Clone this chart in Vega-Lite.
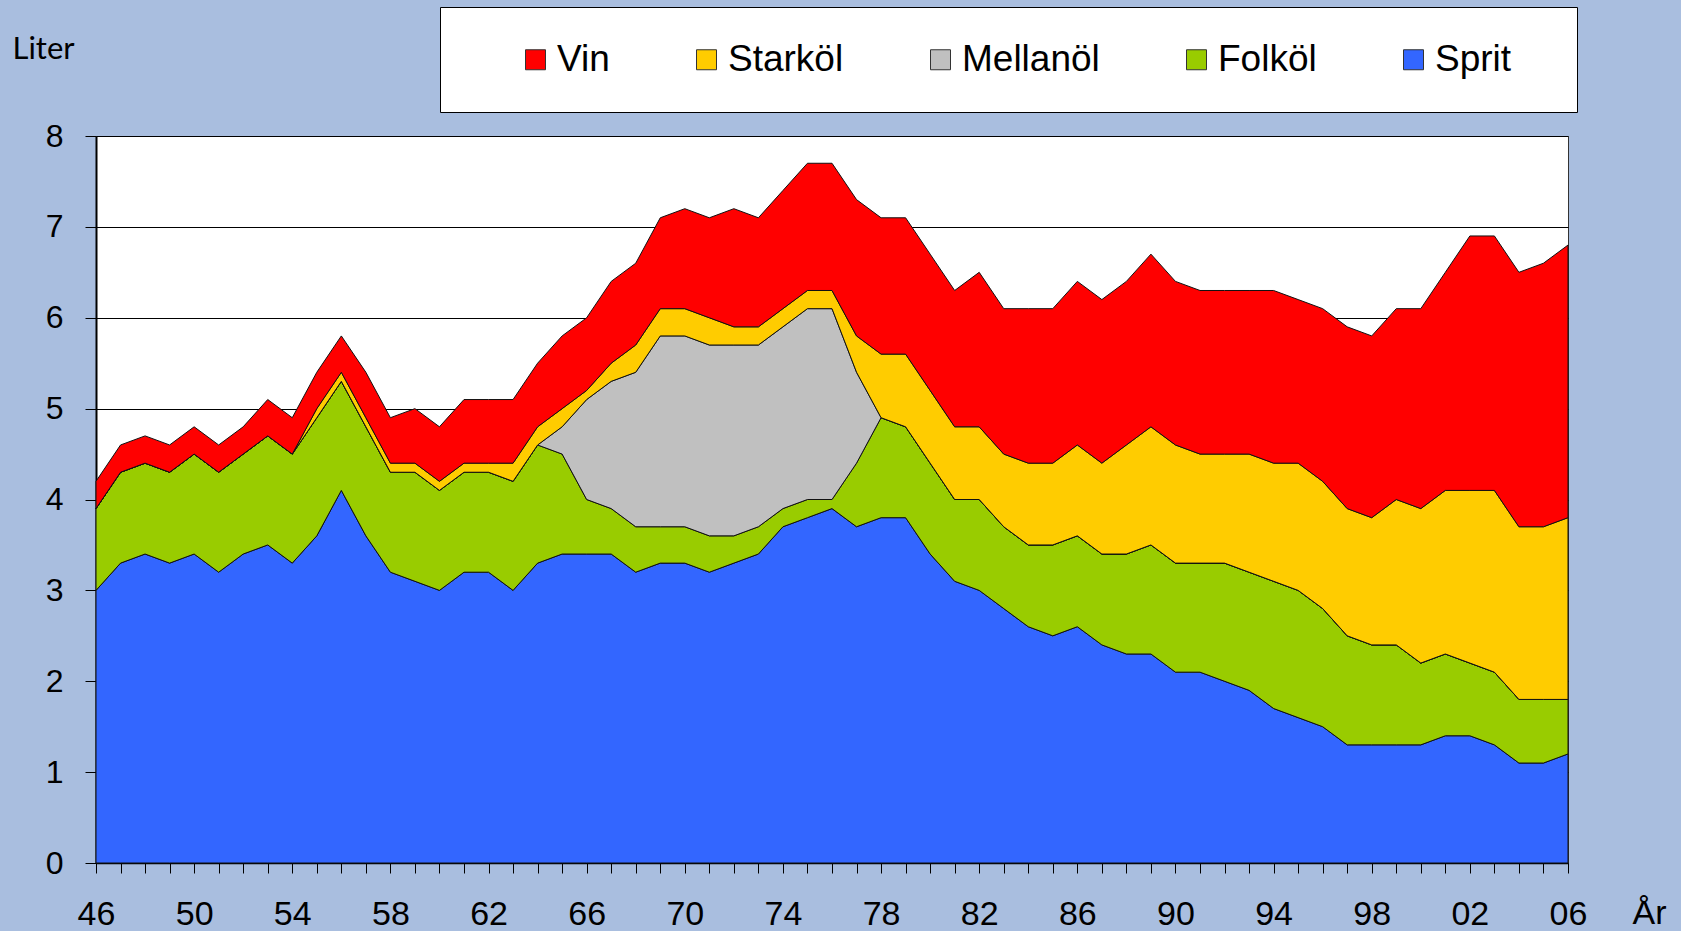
{
  "$schema": "https://vega.github.io/schema/vega-lite/v6.json",
  "width": 1472,
  "height": 727,
  "autosize": {"type": "none"},
  "padding": {"left": 96, "top": 136, "right": 113, "bottom": 68},
  "background": "#A9BEDF",
  "data": {
    "values": [
      {"ar": 1946, "Sprit": 3.0, "Folköl": 0.9, "Mellanöl": 0, "Starköl": 0, "Vin": 0.3},
      {"ar": 1947, "Sprit": 3.3, "Folköl": 1.0, "Mellanöl": 0, "Starköl": 0, "Vin": 0.3},
      {"ar": 1948, "Sprit": 3.4, "Folköl": 1.0, "Mellanöl": 0, "Starköl": 0, "Vin": 0.3},
      {"ar": 1949, "Sprit": 3.3, "Folköl": 1.0, "Mellanöl": 0, "Starköl": 0, "Vin": 0.3},
      {"ar": 1950, "Sprit": 3.4, "Folköl": 1.1, "Mellanöl": 0, "Starköl": 0, "Vin": 0.3},
      {"ar": 1951, "Sprit": 3.2, "Folköl": 1.1, "Mellanöl": 0, "Starköl": 0, "Vin": 0.3},
      {"ar": 1952, "Sprit": 3.4, "Folköl": 1.1, "Mellanöl": 0, "Starköl": 0, "Vin": 0.3},
      {"ar": 1953, "Sprit": 3.5, "Folköl": 1.2, "Mellanöl": 0, "Starköl": 0, "Vin": 0.4},
      {"ar": 1954, "Sprit": 3.3, "Folköl": 1.2, "Mellanöl": 0, "Starköl": 0, "Vin": 0.4},
      {"ar": 1955, "Sprit": 3.6, "Folköl": 1.3, "Mellanöl": 0, "Starköl": 0.1, "Vin": 0.4},
      {"ar": 1956, "Sprit": 4.1, "Folköl": 1.2, "Mellanöl": 0, "Starköl": 0.1, "Vin": 0.4},
      {"ar": 1957, "Sprit": 3.6, "Folköl": 1.2, "Mellanöl": 0, "Starköl": 0.1, "Vin": 0.5},
      {"ar": 1958, "Sprit": 3.2, "Folköl": 1.1, "Mellanöl": 0, "Starköl": 0.1, "Vin": 0.5},
      {"ar": 1959, "Sprit": 3.1, "Folköl": 1.2, "Mellanöl": 0, "Starköl": 0.1, "Vin": 0.6},
      {"ar": 1960, "Sprit": 3.0, "Folköl": 1.1, "Mellanöl": 0, "Starköl": 0.1, "Vin": 0.6},
      {"ar": 1961, "Sprit": 3.2, "Folköl": 1.1, "Mellanöl": 0, "Starköl": 0.1, "Vin": 0.7},
      {"ar": 1962, "Sprit": 3.2, "Folköl": 1.1, "Mellanöl": 0, "Starköl": 0.1, "Vin": 0.7},
      {"ar": 1963, "Sprit": 3.0, "Folköl": 1.2, "Mellanöl": 0, "Starköl": 0.2, "Vin": 0.7},
      {"ar": 1964, "Sprit": 3.3, "Folköl": 1.3, "Mellanöl": 0, "Starköl": 0.2, "Vin": 0.7},
      {"ar": 1965, "Sprit": 3.4, "Folköl": 1.1, "Mellanöl": 0.3, "Starköl": 0.2, "Vin": 0.8},
      {"ar": 1966, "Sprit": 3.4, "Folköl": 0.6, "Mellanöl": 1.1, "Starköl": 0.1, "Vin": 0.8},
      {"ar": 1967, "Sprit": 3.4, "Folköl": 0.5, "Mellanöl": 1.4, "Starköl": 0.2, "Vin": 0.9},
      {"ar": 1968, "Sprit": 3.2, "Folköl": 0.5, "Mellanöl": 1.7, "Starköl": 0.3, "Vin": 0.9},
      {"ar": 1969, "Sprit": 3.3, "Folköl": 0.4, "Mellanöl": 2.1, "Starköl": 0.3, "Vin": 1.0},
      {"ar": 1970, "Sprit": 3.3, "Folköl": 0.4, "Mellanöl": 2.1, "Starköl": 0.3, "Vin": 1.1},
      {"ar": 1971, "Sprit": 3.2, "Folköl": 0.4, "Mellanöl": 2.1, "Starköl": 0.3, "Vin": 1.1},
      {"ar": 1972, "Sprit": 3.3, "Folköl": 0.3, "Mellanöl": 2.1, "Starköl": 0.2, "Vin": 1.3},
      {"ar": 1973, "Sprit": 3.4, "Folköl": 0.3, "Mellanöl": 2.0, "Starköl": 0.2, "Vin": 1.2},
      {"ar": 1974, "Sprit": 3.7, "Folköl": 0.2, "Mellanöl": 2.0, "Starköl": 0.2, "Vin": 1.3},
      {"ar": 1975, "Sprit": 3.8, "Folköl": 0.2, "Mellanöl": 2.1, "Starköl": 0.2, "Vin": 1.4},
      {"ar": 1976, "Sprit": 3.9, "Folköl": 0.1, "Mellanöl": 2.1, "Starköl": 0.2, "Vin": 1.4},
      {"ar": 1977, "Sprit": 3.7, "Folköl": 0.7, "Mellanöl": 1.0, "Starköl": 0.4, "Vin": 1.5},
      {"ar": 1978, "Sprit": 3.8, "Folköl": 1.1, "Mellanöl": 0, "Starköl": 0.7, "Vin": 1.5},
      {"ar": 1979, "Sprit": 3.8, "Folköl": 1.0, "Mellanöl": 0, "Starköl": 0.8, "Vin": 1.5},
      {"ar": 1980, "Sprit": 3.4, "Folköl": 1.0, "Mellanöl": 0, "Starköl": 0.8, "Vin": 1.5},
      {"ar": 1981, "Sprit": 3.1, "Folköl": 0.9, "Mellanöl": 0, "Starköl": 0.8, "Vin": 1.5},
      {"ar": 1982, "Sprit": 3.0, "Folköl": 1.0, "Mellanöl": 0, "Starköl": 0.8, "Vin": 1.7},
      {"ar": 1983, "Sprit": 2.8, "Folköl": 0.9, "Mellanöl": 0, "Starköl": 0.8, "Vin": 1.6},
      {"ar": 1984, "Sprit": 2.6, "Folköl": 0.9, "Mellanöl": 0, "Starköl": 0.9, "Vin": 1.7},
      {"ar": 1985, "Sprit": 2.5, "Folköl": 1.0, "Mellanöl": 0, "Starköl": 0.9, "Vin": 1.7},
      {"ar": 1986, "Sprit": 2.6, "Folköl": 1.0, "Mellanöl": 0, "Starköl": 1.0, "Vin": 1.8},
      {"ar": 1987, "Sprit": 2.4, "Folköl": 1.0, "Mellanöl": 0, "Starköl": 1.0, "Vin": 1.8},
      {"ar": 1988, "Sprit": 2.3, "Folköl": 1.1, "Mellanöl": 0, "Starköl": 1.2, "Vin": 1.8},
      {"ar": 1989, "Sprit": 2.3, "Folköl": 1.2, "Mellanöl": 0, "Starköl": 1.3, "Vin": 1.9},
      {"ar": 1990, "Sprit": 2.1, "Folköl": 1.2, "Mellanöl": 0, "Starköl": 1.3, "Vin": 1.8},
      {"ar": 1991, "Sprit": 2.1, "Folköl": 1.2, "Mellanöl": 0, "Starköl": 1.2, "Vin": 1.8},
      {"ar": 1992, "Sprit": 2.0, "Folköl": 1.3, "Mellanöl": 0, "Starköl": 1.2, "Vin": 1.8},
      {"ar": 1993, "Sprit": 1.9, "Folköl": 1.3, "Mellanöl": 0, "Starköl": 1.3, "Vin": 1.8},
      {"ar": 1994, "Sprit": 1.7, "Folköl": 1.4, "Mellanöl": 0, "Starköl": 1.3, "Vin": 1.9},
      {"ar": 1995, "Sprit": 1.6, "Folköl": 1.4, "Mellanöl": 0, "Starköl": 1.4, "Vin": 1.8},
      {"ar": 1996, "Sprit": 1.5, "Folköl": 1.3, "Mellanöl": 0, "Starköl": 1.4, "Vin": 1.9},
      {"ar": 1997, "Sprit": 1.3, "Folköl": 1.2, "Mellanöl": 0, "Starköl": 1.4, "Vin": 2.0},
      {"ar": 1998, "Sprit": 1.3, "Folköl": 1.1, "Mellanöl": 0, "Starköl": 1.4, "Vin": 2.0},
      {"ar": 1999, "Sprit": 1.3, "Folköl": 1.1, "Mellanöl": 0, "Starköl": 1.6, "Vin": 2.1},
      {"ar": 2000, "Sprit": 1.3, "Folköl": 0.9, "Mellanöl": 0, "Starköl": 1.7, "Vin": 2.2},
      {"ar": 2001, "Sprit": 1.4, "Folköl": 0.9, "Mellanöl": 0, "Starköl": 1.8, "Vin": 2.4},
      {"ar": 2002, "Sprit": 1.4, "Folköl": 0.8, "Mellanöl": 0, "Starköl": 1.9, "Vin": 2.8},
      {"ar": 2003, "Sprit": 1.3, "Folköl": 0.8, "Mellanöl": 0, "Starköl": 2.0, "Vin": 2.8},
      {"ar": 2004, "Sprit": 1.1, "Folköl": 0.7, "Mellanöl": 0, "Starköl": 1.9, "Vin": 2.8},
      {"ar": 2005, "Sprit": 1.1, "Folköl": 0.7, "Mellanöl": 0, "Starköl": 1.9, "Vin": 2.9},
      {"ar": 2006, "Sprit": 1.2, "Folköl": 0.6, "Mellanöl": 0, "Starköl": 2.0, "Vin": 3.0}
    ]
  },
  "transform": [
    {"fold": ["Sprit", "Folköl", "Mellanöl", "Starköl", "Vin"], "as": ["typ", "liter"]},
    {"window": [{"op": "row_number", "as": "nr"}], "groupby": ["ar"]}
  ],
  "mark": {"type": "area", "interpolate": "linear", "stroke": "#111111", "strokeWidth": 1, "opacity": 1},
  "encoding": {
    "x": {
      "field": "ar",
      "type": "quantitative",
      "scale": {"domain": [1946, 2006], "nice": false, "zero": false},
      "axis": {
        "values": [1946,1947,1948,1949,1950,1951,1952,1953,1954,1955,1956,1957,1958,1959,1960,1961,1962,1963,1964,1965,1966,1967,1968,1969,1970,1971,1972,1973,1974,1975,1976,1977,1978,1979,1980,1981,1982,1983,1984,1985,1986,1987,1988,1989,1990,1991,1992,1993,1994,1995,1996,1997,1998,1999,2000,2001,2002,2003,2004,2005,2006],
        "labelExpr": "(datum.value - 1946) % 4 == 0 ? slice(toString(datum.value), 2) : ''",
        "labelOverlap": false,
        "labelFlush": false,
        "labelBound": false,
        "labelFontSize": 34,
        "labelPadding": 24,
        "tickSize": 10,
        "grid": false,
        "title": "År",
        "titleX": 1553,
        "titleY": 50,
        "titleAlign": "center",
        "titleBaseline": "middle",
        "titleFontSize": 34,
        "titleFontWeight": "normal"
      }
    },
    "y": {
      "field": "liter",
      "type": "quantitative",
      "stack": "zero",
      "scale": {"domain": [0, 8], "nice": false},
      "axis": {
        "values": [0, 1, 2, 3, 4, 5, 6, 7, 8],
        "labelFontSize": 32,
        "labelPadding": 22,
        "tickSize": 11,
        "grid": true,
        "gridColor": "#000000",
        "gridWidth": 1,
        "gridOpacity": 1,
        "title": "Liter",
        "titleAngle": 0,
        "titleX": -84,
        "titleY": -87,
        "titleAlign": "left",
        "titleBaseline": "middle",
        "titleFont": "Lato",
        "titleFontSize": 31,
        "titleFontWeight": "normal",
        "domainWidth": 2
      }
    },
    "order": {"field": "nr", "type": "quantitative", "sort": "ascending"},
    "color": {
      "field": "typ",
      "type": "nominal",
      "scale": {
        "domain": ["Vin", "Starköl", "Mellanöl", "Folköl", "Sprit"],
        "range": ["#FF0000", "#FFCC00", "#C0C0C0", "#99CC00", "#3366FF"]
      },
      "legend": {
        "orient": "none",
        "legendX": 344,
        "legendY": -129,
        "direction": "horizontal",
        "title": " ",
        "titleOrient": "right",
        "titleFontSize": 37,
        "titlePadding": 32,
        "padding": 34,
        "symbolOffset": 43,
        "columnPadding": 35,
        "fillColor": "#FFFFFF",
        "strokeColor": "#000000",
        "symbolType": "square",
        "symbolSize": 400,
        "symbolStrokeColor": "#333333",
        "symbolStrokeWidth": 1,
        "symbolOpacity": 1,
        "labelFontSize": 37,
        "labelOffset": 3,
        "labelColor": "#000000",
        "labelLimit": 400
      }
    }
  },
  "config": {
    "font": "Liberation Sans",
    "view": {"fill": "#FFFFFF", "stroke": "#333333", "strokeWidth": 1},
    "axis": {
      "domainColor": "#000000",
      "tickColor": "#000000",
      "labelColor": "#000000",
      "titleColor": "#000000",
      "labelFont": "Liberation Sans",
      "titleFont": "Liberation Sans",
      "tickWidth": 1,
      "domainWidth": 1.5
    },
    "legend": {"labelFont": "Liberation Sans", "titleFont": "Liberation Sans"}
  }
}
